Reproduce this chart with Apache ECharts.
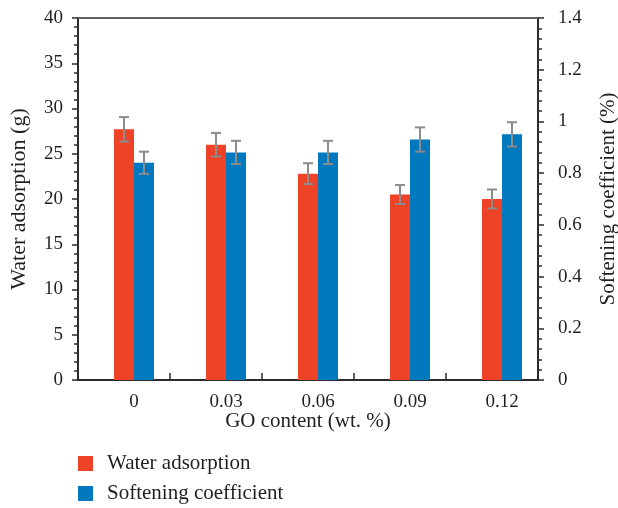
<!DOCTYPE html>
<html>
<head>
<meta charset="utf-8">
<script src="https://cdn.jsdelivr.net/npm/echarts@6/dist/echarts.min.js"></script>
<style>
  html, body { margin: 0; padding: 0; background: #fff; }
  #chart { width: 618px; height: 508px; }
</style>
</head>
<body>
<div id="chart"></div>
<script>
// GO content levels (wt. %)
const categories = ['0', '0.03', '0.06', '0.09', '0.12'];
// Water adsorption (g) with standard deviation
const waterAdsorption = [27.7, 26.0, 22.8, 20.5, 20.0];
const waterError = [1.35, 1.3, 1.15, 1.05, 1.05];
// Softening coefficient with standard deviation
const softeningCoef = [0.84, 0.88, 0.88, 0.93, 0.95];
const softeningError = [0.043, 0.045, 0.045, 0.047, 0.047];
// Axis tick settings
const waterTicks = { min: 0, max: 40, interval: 5 };
const softTicks = { min: 0, max: 1.4, interval: 0.2 };

const FONT = 'Liberation Serif';
const TEXT = '#231f20';
const AXIS = '#2b2b2b';
const RED = '#ee4326';
const BLUE = '#0079be';
const ERR = '#8c8c8c';
const BAR_W = 20;

function errorData(vals, errs) {
  return vals.map((v, i) => [i, v - errs[i], v + errs[i]]);
}

function errorRenderer(offset) {
  return function (params, api) {
    const lo = api.coord([api.value(0), api.value(1)]);
    const hi = api.coord([api.value(0), api.value(2)]);
    const x = lo[0] + offset;
    const cap = 5;
    const style = { stroke: ERR, lineWidth: 2 };
    return {
      type: 'group',
      children: [
        { type: 'line', shape: { x1: x, y1: hi[1], x2: x, y2: lo[1] }, style },
        { type: 'line', shape: { x1: x - cap, y1: hi[1], x2: x + cap, y2: hi[1] }, style },
        { type: 'line', shape: { x1: x - cap, y1: lo[1], x2: x + cap, y2: lo[1] }, style }
      ]
    };
  };
}

const chart = echarts.init(document.getElementById('chart'), null, { renderer: 'canvas' });

chart.setOption({
  animation: false,
  textStyle: { fontFamily: FONT, color: TEXT },
  grid: [
    // frame grid: axes, ticks and titles
    { left: 78, right: 80, top: 18, bottom: 128, containLabel: false, outerBoundsMode: 'none' },
    // data grid: bars centred under the category labels
    { left: 88, right: 70, top: 18, bottom: 128, containLabel: false, outerBoundsMode: 'none' }
  ],
  legend: {
    orient: 'vertical',
    left: 78,
    top: 453,
    height: 60,
    padding: 0,
    itemWidth: 15,
    itemHeight: 15,
    itemGap: 9,
    icon: 'rect',
    textStyle: { fontFamily: FONT, fontSize: 21, lineHeight: 15, color: TEXT, padding: [0, 0, 0, 9] },
    data: ['Water adsorption', 'Softening coefficient']
  },
  xAxis: [
    {
      gridIndex: 0,
      type: 'category',
      data: categories,
      boundaryGap: true,
      axisLine: { lineStyle: { color: AXIS, width: 2 } },
      axisTick: { show: true, inside: true, length: 7, lineStyle: { color: AXIS, width: 1.5 } },
      axisLabel: { show: false },
      name: 'GO content (wt. %)',
      nameLocation: 'middle',
      nameGap: 31,
      nameTextStyle: { fontFamily: FONT, fontSize: 21, color: TEXT }
    },
    {
      gridIndex: 0,
      type: 'category',
      position: 'top',
      data: categories,
      axisLine: { onZero: false, lineStyle: { color: '#606060', width: 2 } },
      axisTick: { show: false },
      axisLabel: { show: false }
    },
    {
      gridIndex: 1,
      type: 'category',
      data: categories,
      axisLine: { show: false },
      axisTick: { show: false },
      axisLabel: { fontFamily: FONT, fontSize: 19, color: TEXT, margin: 13 }
    }
  ],
  yAxis: [
    {
      gridIndex: 0,
      type: 'value',
      position: 'left',
      min: waterTicks.min, max: waterTicks.max, interval: waterTicks.interval,
      axisLine: { show: true, onZero: false, lineStyle: { color: AXIS, width: 2 } },
      axisTick: { show: true, length: 6, lineStyle: { color: AXIS, width: 1.5 } },
      minorTick: { show: true, splitNumber: 5, length: 4, lineStyle: { color: AXIS, width: 1.5 } },
      splitLine: { show: false },
      axisLabel: { fontFamily: FONT, fontSize: 19, color: TEXT, margin: 15 },
      name: 'Water adsorption (g)',
      nameLocation: 'middle',
      nameRotate: 90,
      nameGap: 48,
      nameTextStyle: { fontFamily: FONT, fontSize: 22, color: TEXT }
    },
    {
      gridIndex: 0,
      type: 'value',
      position: 'right',
      min: softTicks.min, max: softTicks.max, interval: softTicks.interval,
      axisLine: { show: true, onZero: false, lineStyle: { color: AXIS, width: 2 } },
      axisTick: { show: true, length: 6, lineStyle: { color: AXIS, width: 1.5 } },
      minorTick: { show: true, splitNumber: 5, length: 4, lineStyle: { color: AXIS, width: 1.5 } },
      splitLine: { show: false },
      axisLabel: { fontFamily: FONT, fontSize: 19, color: TEXT, margin: 20 },
      name: 'Softening coefficient (%)',
      nameLocation: 'middle',
      nameRotate: 90,
      nameGap: 60,
      nameTextStyle: { fontFamily: FONT, fontSize: 21, color: TEXT }
    },
    {
      gridIndex: 1, type: 'value', show: false,
      min: waterTicks.min, max: waterTicks.max, interval: waterTicks.interval,
      splitLine: { show: false }
    },
    {
      gridIndex: 1, type: 'value', show: false,
      min: softTicks.min, max: softTicks.max, interval: softTicks.interval,
      splitLine: { show: false }
    }
  ],
  series: [
    {
      name: 'Water adsorption',
      type: 'bar',
      xAxisIndex: 2,
      yAxisIndex: 2,
      barWidth: BAR_W,
      barGap: '0%',
      itemStyle: { color: RED },
      data: waterAdsorption
    },
    {
      name: 'Softening coefficient',
      type: 'bar',
      xAxisIndex: 2,
      yAxisIndex: 3,
      barWidth: BAR_W,
      barGap: '0%',
      itemStyle: { color: BLUE },
      data: softeningCoef
    },
    {
      type: 'custom',
      xAxisIndex: 2,
      yAxisIndex: 2,
      z: 5,
      renderItem: errorRenderer(-BAR_W / 2),
      encode: { x: 0, y: [1, 2] },
      data: errorData(waterAdsorption, waterError)
    },
    {
      type: 'custom',
      xAxisIndex: 2,
      yAxisIndex: 3,
      z: 5,
      renderItem: errorRenderer(BAR_W / 2),
      encode: { x: 0, y: [1, 2] },
      data: errorData(softeningCoef, softeningError)
    }
  ]
});
</script>
</body>
</html>
